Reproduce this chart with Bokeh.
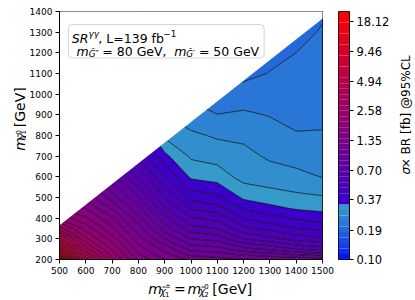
import numpy as np
from bokeh.plotting import figure
from bokeh.layouts import row, column
from bokeh.models import FixedTicker, Label, BoxAnnotation, Range1d
from bokeh.embed import file_html
from bokeh.resources import INLINE

# ---------------- data ----------------
# chargino/neutralino-2 mass (x) and neutralino-1 mass (y) grid, GeV
x_mass = [500, 600, 700, 800, 900, 1000, 1100, 1200, 1300, 1400, 1500]
y_mass = [200, 225, 250, 300, 350, 400, 450, 500, 600, 700, 800, 900, 1000, 1100, 1200, 1300, 1400]

# sigma x BR upper limits [fb] @95% CL, one list per x column (bottom -> top in y)
xsec_500 = [21.4, 12.6, 8.51, 5.01, 3.09, 2.24, 1.70, 1.32, 0.977, 0.776, 0.603, 0.513, 0.427, 0.372, 0.331, 0.295, 0.263]
xsec_600 = [5.01, 4.04, 3.43, 2.65, 2.17, 1.83, 1.58, 1.36, 1.05, 0.822, 0.646, 0.508, 0.427, 0.355, 0.295, 0.263, 0.234]
xsec_700 = [2.65, 2.45, 2.25, 1.91, 1.64, 1.42, 1.22, 1.05, 0.804, 0.646, 0.540, 0.451, 0.376, 0.314, 0.279, 0.247, 0.219]
xsec_800 = [1.78, 1.60, 1.49, 1.32, 1.17, 1.03, 0.897, 0.785, 0.601, 0.461, 0.398, 0.355, 0.314, 0.279, 0.247, 0.219, 0.206]
xsec_900 = [1.42, 1.31, 1.21, 0.986, 0.822, 0.708, 0.610, 0.540, 0.425, 0.344, 0.288, 0.263, 0.240, 0.224, 0.209, 0.200, 0.195]
xsec_1000 = [1.22, 1.07, 0.946, 0.774, 0.640, 0.545, 0.470, 0.407, 0.326, 0.290, 0.268, 0.244, 0.226, 0.211, 0.200, 0.195, 0.191]
xsec_1100 = [1.17, 1.04, 0.918, 0.740, 0.605, 0.515, 0.442, 0.385, 0.315, 0.282, 0.258, 0.233, 0.211, 0.200, 0.195, 0.191, 0.186]
xsec_1200 = [1.12, 0.962, 0.805, 0.610, 0.495, 0.420, 0.366, 0.326, 0.283, 0.272, 0.255, 0.237, 0.217, 0.199, 0.195, 0.191, 0.186]
xsec_1300 = [1.10, 0.918, 0.754, 0.561, 0.460, 0.394, 0.344, 0.312, 0.278, 0.257, 0.244, 0.231, 0.219, 0.207, 0.199, 0.195, 0.191]
xsec_1400 = [1.09, 0.855, 0.682, 0.512, 0.425, 0.367, 0.327, 0.304, 0.271, 0.250, 0.234, 0.226, 0.219, 0.212, 0.206, 0.199, 0.195]
xsec_1500 = [1.07, 0.813, 0.649, 0.488, 0.410, 0.355, 0.321, 0.299, 0.261, 0.247, 0.234, 0.228, 0.222, 0.217, 0.212, 0.208, 0.203]

# kinematic edge of the scanned region (above it: no points)
edge_x = [500, 1500]
edge_y = [365, 1365]

x_ticks = [500, 600, 700, 800, 900, 1000, 1100, 1200, 1300, 1400, 1500]
y_ticks = [200, 300, 400, 500, 600, 700, 800, 900, 1000, 1100, 1200, 1300, 1400]
cbar_ticks = [0.10, 0.19, 0.37, 0.70, 1.35, 2.58, 4.94, 9.46, 18.12]
z_lo, z_hi, z_split = 0.10, 22.56, 1.0 / 3.0
n_levels = 46

# ---------------- derived ----------------
cols = [xsec_500, xsec_600, xsec_700, xsec_800, xsec_900, xsec_1000,
        xsec_1100, xsec_1200, xsec_1300, xsec_1400, xsec_1500]
Z = np.log10(np.array(cols, dtype=float).T)   # shape (ny, nx)

L_lo, L_hi, L_split = np.log10(z_lo), np.log10(z_hi), np.log10(z_split)
levels = list(np.linspace(L_lo, L_hi, n_levels))

def cmap(c):
    if c < L_split:
        f = ((c - L_lo) / (L_split - L_lo)) ** 0.7
        r, g, b = 55 * f, 160 * f, 255 - 55 * f
    else:
        t = (c - L_split) / (L_hi - L_split)
        r, g, b = 55 + 200 * t, 0, 205 * (1 - t)
    return "#%02x%02x%02x" % (int(round(r)), int(round(g)), int(round(b)))

centers = [(levels[i] + levels[i + 1]) / 2 for i in range(len(levels) - 1)]
band_colors = [cmap(c) for c in centers]

FONT = "DejaVu Sans"
A = np.pi / 2

def lab(fig, x, y, text, size, italic=False, angle=0.0, align="left"):
    fig.add_layout(Label(x=x, y=y, text=text, text_font=FONT,
                         text_font_size="%.1fpx" % size,
                         text_font_style="italic" if italic else "normal",
                         text_align=align, text_baseline="alphabetic",
                         angle=angle, text_color="black"))

def text_panel(x0, x1, y0, y1):
    """blank figure whose data coords are page pixels (y negated)"""
    f = figure(width=int(x1 - x0), height=int(y1 - y0),
               x_range=Range1d(x0, x1), y_range=Range1d(-y1, -y0),
               toolbar_location=None, output_backend="svg",
               x_axis_location=None, y_axis_location=None,
               min_border=0, min_border_left=0, min_border_right=0,
               min_border_top=0, min_border_bottom=0)
    f.grid.visible = False
    f.outline_line_color = None
    return f

# ---------------- geometry (page px; Bokeh's page template has no body margin) ----------------
YL_W = 26
LB = 30                      # main left border -> frame starts at x = 56
W1 = LB + 266 + 12
TB, FH, BB = 11, 248, 17     # frame from y = 11 to 259
MAIN_H = TB + FH + BB
H = 299
XL_H = H - MAIN_H
CB_W = 58
CBL_W = 414 - YL_W - W1 - CB_W

# ---------------- main figure ----------------
p = figure(width=W1, height=MAIN_H, x_range=Range1d(500, 1500), y_range=Range1d(200, 1400),
           toolbar_location=None, output_backend="svg",
           min_border_left=LB, min_border_right=12, min_border_top=TB, min_border_bottom=BB)
p.grid.visible = False
p.outline_line_color = "black"
p.outline_line_width = 1
p.background_fill_color = "white"

p.contour(x=x_mass, y=y_mass, z=Z, levels=levels,
          fill_color=band_colors, line_color="black", line_width=0.7, line_alpha=1.0)

# mask the region outside the scanned triangle
p.patch(x=[edge_x[0] - 5, edge_x[1] + 5, edge_x[1] + 5, edge_x[0] - 5],
        y=[edge_y[0] - 5, edge_y[1] + 5, 1405, 1405],
        fill_color="white", line_color=None)

for ax, ticks in ((p.xaxis, x_ticks), (p.yaxis, y_ticks)):
    ax.ticker = FixedTicker(ticks=ticks)
    ax.major_tick_out = 4
    ax.major_tick_in = 0
    ax.minor_tick_out = 0
    ax.minor_tick_in = 0
    ax.major_label_text_font = FONT
    ax.major_label_text_font_size = "9px"
    ax.major_label_text_color = "black"
    ax.axis_line_color = "black"
    ax.major_tick_line_color = "black"
    ax.major_label_standoff = 2 if ax is p.xaxis else 3

FX0 = YL_W + LB
FX1 = FX0 + 266.0
FY0 = TB
FY1 = FY0 + FH
def mx(px):
    return 500 + (px - FX0) * 1000.0 / (FX1 - FX0)
def my(py):
    return 200 + (FY1 - py) * 1200.0 / (FY1 - FY0)

# legend box
p.add_layout(BoxAnnotation(left=mx(65), right=mx(263), top=my(24), bottom=my(57.5),
                           fill_color="white", fill_alpha=1.0, line_color="#707070",
                           line_width=1, border_radius=4))
lab(p, mx(68.5), my(37.5), "SR", 12.5, True)
lab(p, mx(85.3), my(33.0), "γγ", 8.75, True)
lab(p, mx(95.3), my(37.5), ", L=139 fb", 12.5)
lab(p, mx(161.0), my(32.5), "−1", 8.75)
lab(p, mx(73.3), my(50.5), "m", 12.5, True)
lab(p, mx(85.5), my(53.0), "G̃″", 8.75, True)
lab(p, mx(99.3), my(50.5), "= 80 GeV,", 12.5)
lab(p, mx(172.0), my(50.5), "m", 12.5, True)
lab(p, mx(184.2), my(53.0), "G̃′", 8.75, True)
lab(p, mx(197.0), my(50.5), "= 50 GeV", 12.5)

# ---------------- x-axis title panel ----------------
xl = text_panel(YL_W, YL_W + W1, MAIN_H, H)
def xt(x, y, t, s, it=False):
    lab(xl, x, -y, t, s, it)
XB = 288.5
xt(130.0, XB, "m", 14, True)
xt(143.6, XB + 2.5, "χ̃", 9.8, True)
xt(149.6, XB - 3.5, "±", 6.9)
xt(149.6, XB + 4.5, "1", 6.9)
xt(160.0, XB, "=", 14)
xt(176.0, XB, "m", 14, True)
xt(189.6, XB + 2.5, "χ̃", 9.8, True)
xt(195.6, XB - 3.5, "0", 6.9)
xt(195.6, XB + 4.5, "2", 6.9)
xt(205.0, XB, "[GeV]", 14)

# ---------------- y-axis title panel ----------------
yl = text_panel(0, YL_W, 0, H)
def yt(x, y, t, s, it=False):
    lab(yl, x, -y, t, s, it, A)
YB = 19.5
yt(YB, 168.0, "m", 14, True)
yt(YB + 2.2, 154.4, "χ̃", 9.8, True)
yt(YB - 2.5, 148.4, "0", 6.9)
yt(YB + 3.0, 148.4, "1", 6.9)
yt(YB, 139.5, "[GeV]", 14)

# ---------------- colour bar ----------------
cb = figure(width=CB_W, height=H, x_range=Range1d(0, 1), y_range=Range1d(L_lo, L_hi),
            toolbar_location=None, output_backend="svg", x_axis_location=None,
            y_axis_location="right",
            min_border_left=4, min_border_right=CB_W - 17, min_border_top=TB,
            min_border_bottom=H - TB - FH)
cb.grid.visible = False
cb.outline_line_color = "black"
cb.quad(left=0, right=1, bottom=levels[:-1], top=levels[1:],
        fill_color=band_colors, line_color=None)

tick_pos = [float(round(np.log10(v), 6)) for v in cbar_ticks]
cb.yaxis.ticker = FixedTicker(ticks=tick_pos)
cb.yaxis.major_label_overrides = {tp: "%.2f" % v for tp, v in zip(tick_pos, cbar_ticks)}
cb.yaxis.major_tick_out = 4
cb.yaxis.major_tick_in = 0
cb.yaxis.minor_tick_out = 0
cb.yaxis.minor_tick_in = 0
cb.yaxis.major_label_text_font = FONT
cb.yaxis.major_label_text_font_size = "11.5px"
cb.yaxis.major_label_text_color = "black"
cb.yaxis.major_label_standoff = 3
cb.yaxis.axis_line_color = "black"

# ---------------- colour-bar title panel ----------------
cx0 = YL_W + W1 + CB_W
cl = text_panel(cx0, cx0 + CBL_W, 0, H)
CB_BASE = 405.0
lab(cl, CB_BASE, -196.5, "σ", 12, True, A)
lab(cl, CB_BASE, -189.0, " × BR [fb] @95%CL", 12, False, A)

layout = row(yl, column(p, xl), cb, cl)
open("out.html", "w").write(file_html(layout, INLINE))
